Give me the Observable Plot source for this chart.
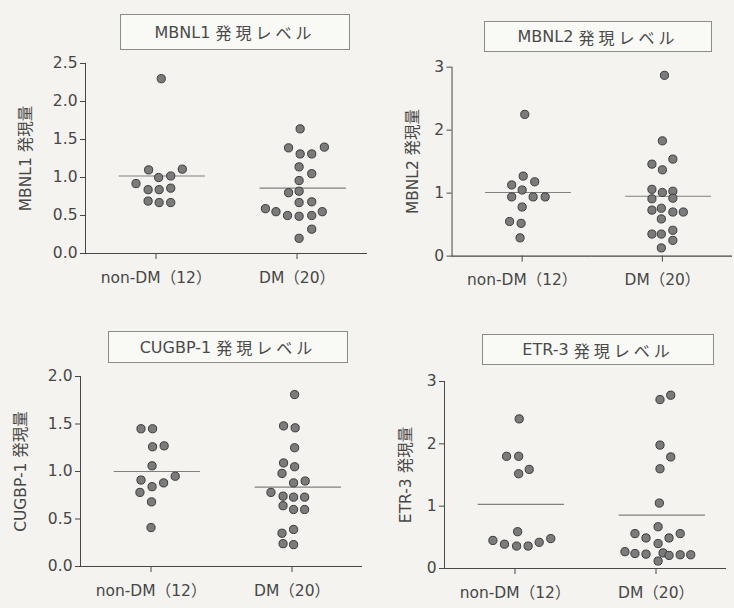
<!DOCTYPE html>
<html><head><meta charset="utf-8">
<script src="https://cdn.jsdelivr.net/npm/d3@7"></script>
<script src="https://cdn.jsdelivr.net/npm/@observablehq/plot@0.6"></script>
<style>
body{margin:0;background:#f4f3ef;}
#root{position:relative;width:734px;height:608px;overflow:hidden;}
.panel{position:absolute;}
.title{position:absolute;border:1px solid #8c8c8c;background:#f9f9f6;color:#4a4a4a;font-size:16px;display:flex;align-items:center;justify-content:center;box-sizing:border-box;font-family:"DejaVu Sans","Noto Sans CJK JP",sans-serif;white-space:pre;}
.title .jp{letter-spacing:4px;font-family:"Noto Sans CJK JP",sans-serif;}
</style></head><body><div id="root"></div>
<script>
// categories
const groups = ["non-DM（12）", "DM（20）"];

// MBNL1
const mbnl1NonVals = [2.30, 1.10, 1.11, 1.00, 1.02, 0.92, 0.84, 0.84, 0.86, 0.69, 0.67, 0.67];
const mbnl1NonCols = [0.5, -0.7, 2.5, 0.25, 1.4, -1.9, -0.75, 0.3, 1.4, -0.75, 0.3, 1.4];
const mbnl1DmVals = [1.64, 1.39, 1.40, 1.31, 1.31, 1.14, 1.05, 0.96, 0.80, 0.82, 0.67, 0.68, 0.59, 0.55, 0.50, 0.49, 0.50, 0.55, 0.32, 0.20];
const mbnl1DmCols = [0.3, -0.8, 2.6, 0.3, 1.4, 0.2, 1.4, 0.2, -0.8, 0.2, 0.2, 1.4, -3.0, -2.0, -0.9, 0.2, 1.4, 2.4, 1.4, 0.2];
const mbnl1Means = [1.02, 0.86];

// MBNL2
const mbnl2NonVals = [2.25, 1.27, 1.18, 1.13, 1.05, 0.94, 0.94, 0.94, 0.78, 0.55, 0.52, 0.29];
const mbnl2NonCols = [0.25, 0.1, 1.2, -1.0, 0.0, -1.0, 1.05, 2.2, 0.0, -1.2, -0.1, -0.2];
const mbnl2DmVals = [2.87, 1.83, 1.54, 1.46, 1.37, 1.06, 1.01, 1.03, 0.91, 0.92, 0.73, 0.76, 0.70, 0.70, 0.59, 0.35, 0.35, 0.41, 0.25, 0.13];
const mbnl2DmCols = [0.2, 0.0, 1.0, -1.0, 0.0, -1.0, 0.0, 1.0, -1.0, 1.0, -1.0, -0.1, 1.0, 2.0, -0.1, -1.0, -0.1, 1.0, 1.0, -0.1];
const mbnl2Means = [1.01, 0.95];

// CUGBP-1
const cugbpNonVals = [1.45, 1.45, 1.26, 1.27, 1.06, 0.91, 0.95, 0.84, 0.88, 0.78, 0.68, 0.41];
const cugbpNonCols = [-0.95, 0.15, 0.15, 1.25, 0.1, -0.95, 2.3, 0.1, 1.2, -1.05, 0.05, 0.0];
const cugbpDmVals = [1.81, 1.48, 1.46, 1.25, 1.09, 1.05, 0.98, 0.88, 0.90, 0.78, 0.74, 0.73, 0.73, 0.64, 0.60, 0.60, 0.35, 0.39, 0.24, 0.23];
const cugbpDmCols = [0.25, -0.8, 0.3, 0.25, -0.8, 0.25, -0.95, 0.15, 1.25, -2.0, -0.85, 0.15, 1.2, -0.85, 0.15, 1.2, -0.95, 0.15, -0.85, 0.15];
const cugbpMeans = [1.00, 0.835];

// ETR-3
const etr3NonVals = [2.40, 1.80, 1.80, 1.52, 1.59, 0.59, 0.45, 0.39, 0.36, 0.36, 0.42, 0.48];
const etr3NonCols = [0.4, -0.8, 0.35, 0.35, 1.35, 0.25, -2.1, -1.0, 0.15, 1.25, 2.3, 3.4];
const etr3DmVals = [2.71, 2.78, 1.98, 1.79, 1.60, 1.05, 0.67, 0.56, 0.49, 0.40, 0.49, 0.56, 0.27, 0.24, 0.23, 0.12, 0.25, 0.21, 0.22, 0.22];
const etr3DmCols = [0.38, 1.4, 0.38, 1.4, 0.38, 0.32, 0.2, -2.0, -0.95, 0.2, 1.24, 2.3, -2.95, -2.0, -0.95, 0.2, 0.67, 1.24, 2.3, 3.3];
const etr3Means = [1.03, 0.855];

// tick labels
const ticksHalf = [0, 0.5, 1.0, 1.5, 2.0, 2.5];
const ticksHalf2 = [0, 0.5, 1.0, 1.5, 2.0];
const ticksInt = [0, 1, 2, 3];

const FONT = '"DejaVu Sans","Noto Sans CJK JP",sans-serif';

const panels = [
  {name: "MBNL1", nonV: mbnl1NonVals, nonC: mbnl1NonCols, dmV: mbnl1DmVals, dmC: mbnl1DmCols, means: mbnl1Means,
   yMax: 2.5, ticks: ticksHalf, fmt: ".1f", left: 0, top: 0, ml: 85, h: 190, lo: 66,
   box: {l: 120, t: 14, w: 230, h: 36}},
  {name: "MBNL2", nonV: mbnl2NonVals, nonC: mbnl2NonCols, dmV: mbnl2DmVals, dmC: mbnl2DmCols, means: mbnl2Means,
   yMax: 3, ticks: ticksInt, fmt: "d", left: 367, top: 4, ml: 85, h: 190, lo: 45,
   box: {l: 484, t: 21, w: 228, h: 31}},
  {name: "CUGBP-1", nonV: cugbpNonVals, nonC: cugbpNonCols, dmV: cugbpDmVals, dmC: cugbpDmCols, means: cugbpMeans,
   yMax: 2.0, ticks: ticksHalf2, fmt: ".1f", left: 0, top: 313, ml: 80, h: 190, lo: 66,
   box: {l: 108, t: 331, w: 240, h: 32}},
  {name: "ETR-3", nonV: etr3NonVals, nonC: etr3NonCols, dmV: etr3DmVals, dmC: etr3DmCols, means: etr3Means,
   yMax: 3, ticks: ticksInt, fmt: "d", left: 359, top: 318, ml: 85, h: 187, lo: 45,
   box: {l: 482, t: 334, w: 232, h: 31}}
];

const root = document.getElementById("root");

for (const p of panels) {
  const data = [
    ...p.nonV.map((v, i) => ({g: groups[0], y: v, c: p.nonC[i]})),
    ...p.dmV.map((v, i) => ({g: groups[1], y: v, c: p.dmC[i]}))
  ];
  const means = groups.map((g, i) => ({g, y: p.means[i]}));
  const chart = Plot.plot({
    width: p.ml + 284, height: 63 + p.h + 47,
    marginLeft: p.ml, marginRight: 2, marginTop: 63, marginBottom: 47,
    style: {background: "transparent", color: "#474747", fontSize: "15.5px", fontFamily: FONT, overflow: "visible"},
    fx: {domain: groups, padding: 0, label: null, axis: "bottom", tickSize: 6, tickPadding: 12},
    x: {domain: [-6.7, 6.7], axis: null},
    y: {domain: [0, p.yMax], ticks: p.ticks, tickFormat: p.fmt, label: p.name + " 発現量",
        labelAnchor: "center", labelArrow: "none", labelOffset: p.lo, tickSize: 5, tickPadding: 3, line: true},
    marks: [
      Plot.ruleY([0], {stroke: "#474747", strokeWidth: 1.2}),
      Plot.ruleY(means, {fx: "g", y: "y", x1: -3.5, x2: 4.7, stroke: "#808080", strokeWidth: 1.2}),
      Plot.dot(data, {fx: "g", x: "c", y: "y", r: 4.1, fill: "#7b7b7b", stroke: "#3a3a3a", strokeWidth: 1})
    ]
  });
  const div = document.createElement("div");
  div.className = "panel";
  div.style.left = p.left + "px";
  div.style.top = p.top + "px";
  div.appendChild(chart);
  root.appendChild(div);

  const box = document.createElement("div");
  box.className = "title";
  box.style.left = p.box.l + "px";
  box.style.top = p.box.t + "px";
  box.style.width = p.box.w + "px";
  box.style.height = p.box.h + "px";
  const a = document.createElement("span");
  a.textContent = p.name + " ";
  const b = document.createElement("span");
  b.className = "jp";
  b.textContent = "発現レベル";
  box.appendChild(a);
  box.appendChild(b);
  root.appendChild(box);
}
</script></body></html>
